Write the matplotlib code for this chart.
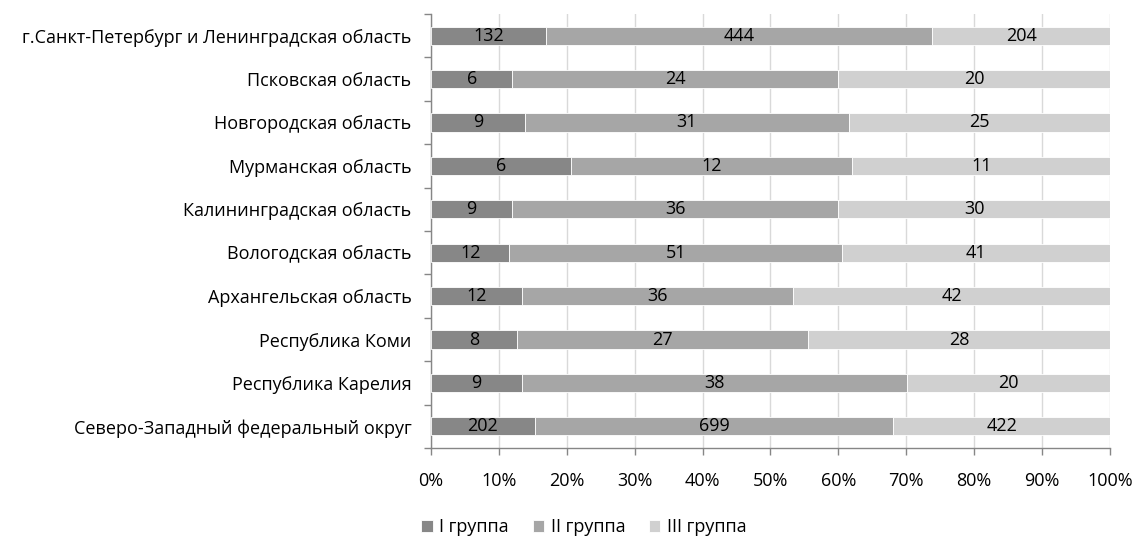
import matplotlib
matplotlib.use("Agg")
import matplotlib.pyplot as plt
import numpy as np
from matplotlib.ticker import FixedLocator, PercentFormatter

plt.rcParams['font.family'] = ['Open Sans', 'DejaVu Sans']

regions = [
    "Северо-Западный федеральный округ",
    "Республика Карелия",
    "Республика Коми",
    "Архангельская область",
    "Вологодская область",
    "Калининградская область",
    "Мурманская область",
    "Новгородская область",
    "Псковская область",
    "г.Санкт-Петербург и Ленинградская область",
]
group1 = [202, 9, 8, 12, 12, 9, 6, 9, 6, 132]
group2 = [699, 38, 27, 36, 51, 36, 12, 31, 24, 444]
group3 = [422, 20, 28, 42, 41, 30, 11, 25, 20, 204]
series_names = ["I группа", "II группа", "III группа"]
colors = ["#878787", "#a6a6a6", "#d0d0d0"]

data = np.array([group1, group2, group3], dtype=float)
shares = data / data.sum(axis=0) * 100

fs = 13

fig = plt.figure(figsize=(11.36, 5.37), dpi=100)
ax = fig.add_axes([0.3794, 0.1657, 0.5977, 0.8083])

y = np.arange(len(regions))
left = np.zeros(len(regions))
for i in range(3):
    bars = ax.barh(y, shares[i], left=left, height=0.42, color=colors[i],
                   edgecolor="white", linewidth=0.6, label=series_names[i], zorder=3)
    for j, b in enumerate(bars):
        ax.text(left[j] + shares[i][j] / 2, y[j], f"{int(data[i][j])}",
                ha="center", va="center", fontsize=fs, color="black", zorder=4)
    left += shares[i]

ax.set_xlim(0, 100)
ax.set_ylim(-0.5, len(regions) - 0.5)
ax.xaxis.set_major_locator(FixedLocator(np.arange(0, 101, 10)))
ax.xaxis.set_major_formatter(PercentFormatter(decimals=0))
ax.grid(axis="x", color="#d9d9d9", linewidth=1, zorder=0)

ax.set_yticks(y)
ax.set_yticklabels(regions, fontsize=fs)
ax.yaxis.set_minor_locator(FixedLocator(np.arange(-0.5, len(regions), 1)))
ax.tick_params(axis="y", which="major", length=0, pad=14)
ax.tick_params(axis="y", which="minor", length=5, color="#868686", width=1)
ax.tick_params(axis="x", which="major", length=5, color="#868686", width=1,
               direction="out", labelsize=fs, pad=12)

for s in ["top", "right"]:
    ax.spines[s].set_visible(False)
for s in ["left", "bottom"]:
    ax.spines[s].set_color("#868686")
    ax.spines[s].set_linewidth(1)

ax.legend(loc="center", bbox_to_anchor=(0.514, 1 - 527 / 537), bbox_transform=fig.transFigure,
          ncol=3, frameon=False, fontsize=fs, handlelength=0.65, handleheight=0.65,
          handletextpad=0.35, columnspacing=1.3)

fig.savefig("out.png", dpi=100)
